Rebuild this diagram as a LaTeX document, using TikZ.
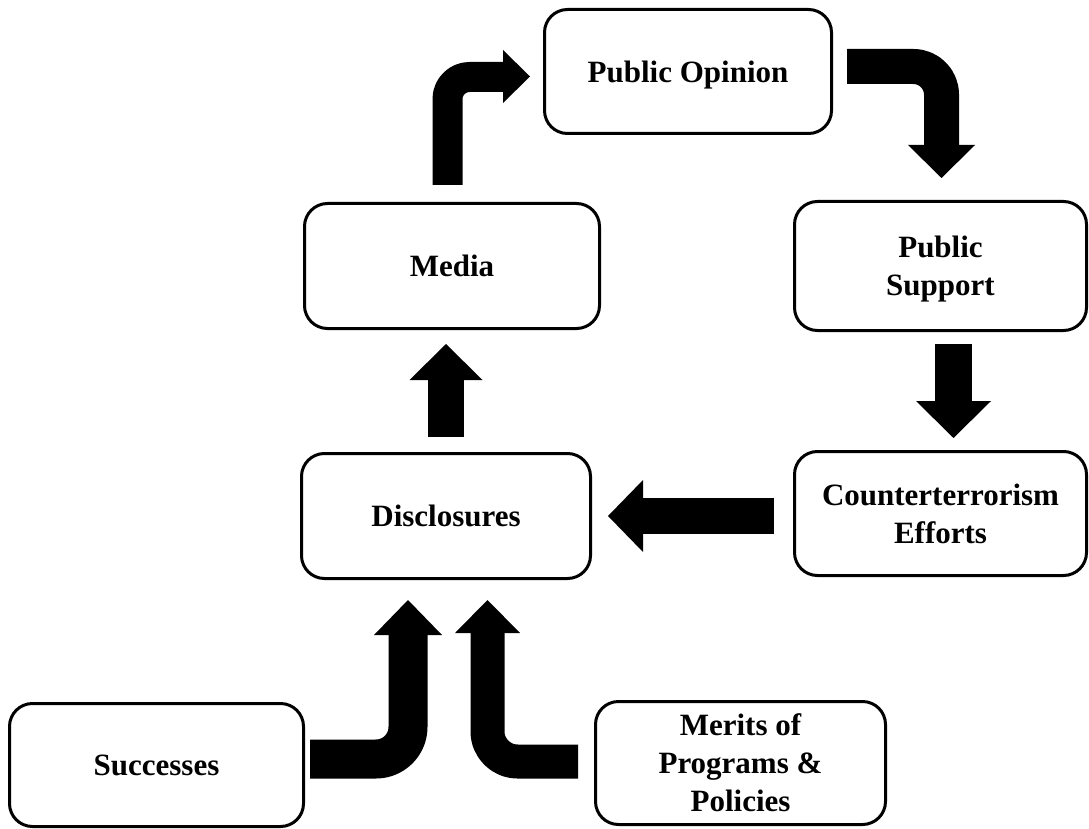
\documentclass[tikz,border=0pt]{standalone}
\usepackage{fontspec}
\setmainfont{Liberation Serif}
\begin{document}
\begin{tikzpicture}[x=1pt,y=-1pt,
  box/.style={draw=black, line width=3pt, rounded corners=23pt, fill=white,
    align=center, inner sep=0pt, text depth=0pt,
    font=\fontsize{31}{38}\selectfont\bfseries},
  shaft/.style={draw=black, line width=#1, line cap=butt, line join=round},
  head/.style={fill=black, draw=none}]
\useasboundingbox (0,0) rectangle (1089,829);

% boxes
\node[box, minimum width=287pt, minimum height=124pt] (po) at (688,71.5) {Public Opinion};
\node[box, minimum width=295pt, minimum height=125pt] (media) at (452,266) {Media};
\node[box, minimum width=292pt, minimum height=129pt] (ps) at (940.5,266) {Public\\Support};
\node[box, minimum width=289pt, minimum height=125pt] (disc) at (446,516) {Disclosures};
\node[box, minimum width=292pt, minimum height=124pt] (ct) at (940.5,513.5) {Counterterrorism\\Efforts};
\node[box, minimum width=294pt, minimum height=123pt] (succ) at (156.5,765) {Successes};
\node[box, minimum width=290pt, minimum height=123pt] (merit) at (740.5,763) {Merits of\\Programs \&\\Policies};

% arrow coordinates
\coordinate (a1s) at (446,437);   \coordinate (a1h) at (446,379);
\coordinate (a2s) at (447.5,185); \coordinate (a2c) at (447.5,77); \coordinate (a2h) at (504,77);
\coordinate (a3s) at (847,66.5);  \coordinate (a3c) at (941.5,66.5); \coordinate (a3h) at (941.5,146);
\coordinate (a4s) at (953.5,344); \coordinate (a4h) at (953.5,402);
\coordinate (a5s) at (774,516);   \coordinate (a5h) at (642,516);
\coordinate (a6s) at (310,759);   \coordinate (a6c) at (408,759); \coordinate (a6h) at (408,634);
\coordinate (a7s) at (578,761.5); \coordinate (a7c) at (487.5,761.5); \coordinate (a7h) at (487.5,632);

% Disclosures -> Media
\draw[shaft=36pt] (a1s) -- (a1h);
\fill[head] (409.5,380) -- (482.5,380) -- (446,344) -- cycle;

% Media -> Public Opinion
\draw[shaft=30pt, rounded corners=22pt] (a2s) -- (a2c) -- (a2h);
\fill[head] (503,50) -- (503,103) -- (530,76.5) -- cycle;

% Public Opinion -> Public Support
\draw[shaft=35pt, rounded corners=28pt] (a3s) -- (a3c) -- (a3h);
\fill[head] (908,145) -- (975,145) -- (941.5,178) -- cycle;

% Public Support -> Counterterrorism
\draw[shaft=37pt] (a4s) -- (a4h);
\fill[head] (916,401) -- (991,401) -- (953.5,438) -- cycle;

% Counterterrorism -> Disclosures
\draw[shaft=36pt] (a5s) -- (a5h);
\fill[head] (643,480) -- (643,552) -- (608,516) -- cycle;

% Successes -> Disclosures
\draw[shaft=39pt, rounded corners=32pt] (a6s) -- (a6c) -- (a6h);
\fill[head] (374,635) -- (442,635) -- (408,600) -- cycle;

% Merits -> Disclosures
\draw[shaft=34pt, rounded corners=30pt] (a7s) -- (a7c) -- (a7h);
\fill[head] (455,633) -- (520,633) -- (487.5,600) -- cycle;
\end{tikzpicture}
\end{document}
